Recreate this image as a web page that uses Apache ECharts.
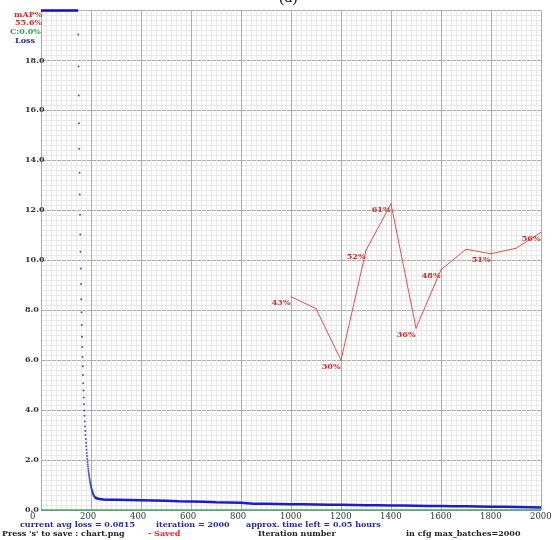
<!DOCTYPE html>
<html>
<head>
<meta charset="utf-8">
<script src="https://cdn.jsdelivr.net/npm/echarts@6/dist/echarts.min.js"></script>
<style>
html,body{margin:0;padding:0;background:#fff;}
#chart{width:557px;height:540px;}
</style>
</head>
<body>
<div id="chart"></div>
<script>
// ---- data ----
const xTickLabels = ['0','200','400','600','800','1000','1200','1400','1600','1800','2000'];
const yTickLabels = ['0.0','2.0','4.0','6.0','8.0','10.0','12.0','14.0','16.0','18.0'];

// loss above chart max (clipped at the top edge)
const lossTopIters = [0, 148];
const lossTopValues = [20, 20];

// individual loss dots, one per iteration starting at lossDotStart
const lossDotStart = 149;
const lossDotValues = [19.04, 17.76, 16.60, 15.49, 14.46, 13.50, 12.63, 11.82, 11.03, 10.34,
  9.67, 9.05, 8.44, 7.92, 7.41, 6.94, 6.53, 6.13, 5.76, 5.41,
  5.08, 4.78, 4.50, 4.23, 3.98, 3.77, 3.54, 3.34, 3.16, 3.00,
  2.84, 2.69, 2.55, 2.41, 2.28, 2.16, 2.04, 1.93, 1.83, 1.74,
  1.65, 1.56, 1.48, 1.41, 1.34, 1.27, 1.21, 1.15, 1.09, 1.04,
  0.99, 0.94, 0.90, 0.86, 0.82, 0.78, 0.75, 0.72, 0.69, 0.66,
  0.63, 0.61, 0.59, 0.57, 0.55, 0.53, 0.51, 0.50];

// dense loss tail
const lossTailIters = [216, 225, 235, 250, 275, 300, 350, 400, 450, 500, 550, 600, 650, 700, 750, 800, 850, 900, 950, 1000,
  1050, 1100, 1150, 1200, 1250, 1300, 1350, 1400, 1450, 1500, 1550, 1600, 1650, 1700, 1750, 1800, 1850, 1900, 1950, 2000];
const lossTailValues = [0.50, 0.46, 0.44, 0.42, 0.41, 0.41, 0.40, 0.39, 0.38, 0.37, 0.35, 0.34, 0.33, 0.31, 0.30, 0.29, 0.25, 0.25, 0.24, 0.23,
  0.23, 0.22, 0.21, 0.21, 0.20, 0.19, 0.19, 0.18, 0.18, 0.17, 0.16, 0.16, 0.15, 0.15, 0.14, 0.13, 0.13, 0.12, 0.11, 0.10];

// mAP (%)
const mapIters = [1000, 1100, 1200, 1300, 1400, 1500, 1600, 1700, 1800, 1900, 2000];
const mapValues = [42.7, 40.3, 30.0, 52.0, 61.3, 36.4, 48.1, 52.2, 51.3, 52.4, 55.6];
const mapLabelShown = [true, false, true, true, true, true, true, false, true, false, true];

// contrastive accuracy C (%)
const cIters = [0, 2000];
const cValues = [0, 0];

const legendTexts = ['mAP%', '55.6%', 'C:0.0%', 'Loss'];
const bottomLine1 = ['current avg loss = 0.0815', 'iteration = 2000', 'approx. time left = 0.05 hours'];
const bottomLine2 = ["Press 's' to save : chart.png", '- Saved', 'Iteration number', 'in cfg max_batches=2000'];

// ---- chart ----
const chart = echarts.init(document.getElementById('chart'), null, {renderer: 'canvas'});
const serif = '"DejaVu Serif", "Liberation Serif", serif';

const dotData = lossDotValues.map((v, i) => [lossDotStart + i, v]);
const tailData = lossTailIters.map((x, i) => [x, lossTailValues[i]]);
const topData = lossTopIters.map((x, i) => [x, lossTopValues[i]]);
const cData = cIters.map((x, i) => [x, cValues[i]]);
const mapData = mapIters.map((x, i) => ({
  value: [x, mapValues[i]],
  label: {show: mapLabelShown[i]}
}));

function txt(text, left, top, color, size) {
  return {type: 'text', left: left, top: top, z: 100,
    style: {text: text, fill: color, font: 'bold ' + (size || 8) + 'px ' + serif}};
}

const option = {
  animation: false,
  backgroundColor: '#ffffff',
  title: {
    text: '(d)', left: 274, top: -15,
    textStyle: {fontFamily: '"Liberation Serif", serif', fontSize: 16, fontWeight: 'normal', color: '#111'}
  },
  grid: [
    {left: 41, right: 16, top: 10.5, bottom: 30},
    {left: 30, right: 27, top: 10.5, bottom: 30}
  ],
  xAxis: [
    {
      type: 'value', gridIndex: 0, min: 0, max: 2000, interval: 200,
      axisLine: {show: false}, axisTick: {show: false}, axisLabel: {show: false},
      splitLine: {show: true, lineStyle: {color: '#acacac', width: 1}},
      minorTick: {show: false, splitNumber: 10},
      minorSplitLine: {show: true, lineStyle: {color: '#e8e8e8', width: 1}}
    },
    {
      type: 'value', gridIndex: 1, min: 0, max: 2000, interval: 200,
      axisLine: {show: false}, axisTick: {show: false}, splitLine: {show: false},
      axisLabel: {
        show: true, align: 'left', margin: 2, color: '#333',
        fontFamily: serif, fontSize: 8.5, lineHeight: 9,
        formatter: (v) => xTickLabels[Math.round(v / 200)]
      }
    }
  ],
  yAxis: [
    {
      type: 'value', gridIndex: 0, min: 0, max: 20, interval: 2,
      axisLine: {show: false}, axisTick: {show: false},
      axisLabel: {
        show: true, align: 'left', margin: 16, color: '#333',
        fontFamily: serif, fontSize: 8, fontWeight: 'bold', showMaxLabel: false,
        formatter: (v) => yTickLabels[Math.round(v / 2)] || ''
      },
      splitLine: {show: true, lineStyle: {color: '#acacac', width: 1}},
      minorTick: {show: false, splitNumber: 10},
      minorSplitLine: {show: true, lineStyle: {color: '#e8e8e8', width: 1}}
    },
    {type: 'value', gridIndex: 0, min: 0, max: 100, show: false},
    {type: 'value', gridIndex: 1, min: 0, max: 20, show: false}
  ],
  series: [
    {
      name: 'C', type: 'line', xAxisIndex: 0, yAxisIndex: 0, data: cData,
      symbol: 'none', clip: false, z: 3,
      lineStyle: {color: '#4aa36a', width: 1.5}
    },
    {
      name: 'LossTop', type: 'line', xAxisIndex: 0, yAxisIndex: 0, data: topData,
      symbol: 'none', clip: false, z: 4,
      lineStyle: {color: '#0a0ae6', width: 2.5}
    },
    {
      name: 'LossDots', type: 'scatter', xAxisIndex: 0, yAxisIndex: 0, data: dotData,
      symbol: 'circle', symbolSize: 2, z: 4,
      itemStyle: {color: '#3232c8', opacity: 0.85}
    },
    {
      name: 'LossTail', type: 'line', xAxisIndex: 0, yAxisIndex: 0, data: tailData,
      symbol: 'none', clip: false, z: 4,
      lineStyle: {color: '#1c1cc8', width: 2.5}
    },
    {
      name: 'mAP', type: 'line', xAxisIndex: 0, yAxisIndex: 1, data: mapData,
      symbol: 'circle', symbolSize: 1, showSymbol: true, z: 5,
      itemStyle: {color: '#e05252'},
      lineStyle: {color: '#e05252', width: 1},
      label: {
        show: false, position: [0, 3], align: 'right', verticalAlign: 'top',
        color: '#d42a2a', fontFamily: serif, fontSize: 8, fontWeight: 'bold',
        formatter: (p) => Math.round(p.value[1]) + '%'
      }
    }
  ],
  graphic: [
    txt(legendTexts[0], 14, 11, '#d42a2a'),
    txt(legendTexts[1], 15, 18.5, '#d42a2a'),
    txt(legendTexts[2], 10, 28, '#2e9a5a'),
    txt(legendTexts[3], 15, 36.5, '#2626b4'),
    txt(bottomLine1[0], 20, 521, '#2a2aa0', 8),
    txt(bottomLine1[1], 156, 521, '#2a2aa0', 8),
    txt(bottomLine1[2], 246, 521, '#2a2aa0', 8),
    txt(bottomLine2[0], 2, 530, '#222', 8),
    txt(bottomLine2[1], 148, 530, '#e02a2a', 8),
    txt(bottomLine2[2], 258, 530, '#222', 8),
    txt(bottomLine2[3], 406, 530, '#222', 8)
  ]
};
chart.setOption(option);
</script>
</body>
</html>
